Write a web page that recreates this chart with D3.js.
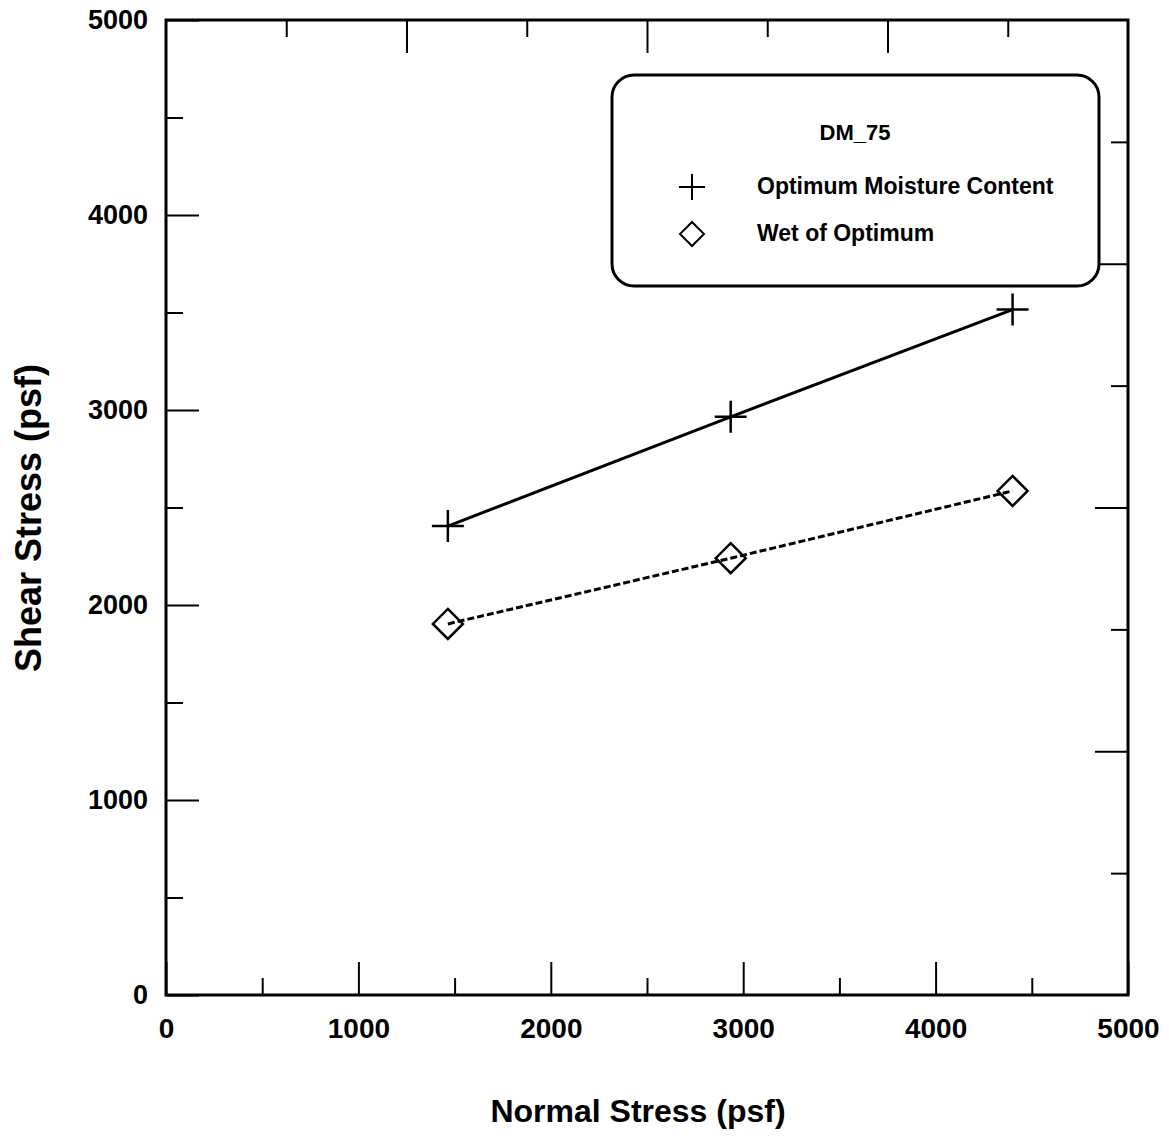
<!DOCTYPE html>
<html><head><meta charset="utf-8">
<script src="https://cdn.jsdelivr.net/npm/d3@7"></script>
<style>body{margin:0;background:#fff}svg{display:block}text{font-family:"Liberation Sans",Arial,sans-serif;font-weight:bold;fill:#000}</style>
</head><body><svg id="c" width="1169" height="1138"></svg>
<script>
const normalStress = [1465, 2935, 4400];
const optimumShear = [2405, 2965, 3515];
const wetShear = [1903, 2240, 2585];
const xMajorTicks = [0, 1000, 2000, 3000, 4000, 5000];
const xMinorTicks = [500, 1500, 2500, 3500, 4500];
const yMajorTicks = [0, 1000, 2000, 3000, 4000, 5000];
const yMinorTicks = [500, 1500, 2500, 3500, 4500];
const secMajorTicks = [2, 4, 6];
const secMinorTicks = [1, 3, 5, 7];
const legendTitle = "DM_75";
const seriesNames = ["Optimum Moisture Content", "Wet of Optimum"];

const svg = d3.select("#c");
const L = 166, R = 1128, T = 20, B = 995;
const x = d3.scaleLinear().domain([0, 5000]).range([L, R]);
const y = d3.scaleLinear().domain([0, 5000]).range([B, T]);
const xs = d3.scaleLinear().domain([0, 8]).range([L, R]);
const ys = d3.scaleLinear().domain([0, 8]).range([B, T]);

function styleAxis(g) {
  g.select(".domain").remove();
  g.selectAll(".tick line").attr("stroke", "#000").attr("stroke-width", 2);
}
const MAJ = 33, MIN = 17;
// bottom
svg.append("g").attr("transform", `translate(0,${B})`)
  .call(d3.axisBottom(x).tickValues(xMajorTicks).tickSize(-MAJ).tickPadding(23).tickFormat(d3.format("d")))
  .call(styleAxis)
  .call(g => g.selectAll("text").attr("font-size", 28).attr("font-family", null).style("font-weight", "bold"));
svg.append("g").attr("transform", `translate(0,${B})`)
  .call(d3.axisBottom(x).tickValues(xMinorTicks).tickSize(-MIN).tickFormat(""))
  .call(styleAxis);
// left
svg.append("g").attr("transform", `translate(${L},0)`)
  .call(d3.axisLeft(y).tickValues(yMajorTicks).tickSize(-MAJ).tickPadding(18).tickFormat(d3.format("d")))
  .call(styleAxis)
  .call(g => g.selectAll("text").attr("font-size", 27).attr("font-family", null).style("font-weight", "bold"));
svg.append("g").attr("transform", `translate(${L},0)`)
  .call(d3.axisLeft(y).tickValues(yMinorTicks).tickSize(-MIN).tickFormat(""))
  .call(styleAxis);
// top
svg.append("g").attr("transform", `translate(0,${T})`)
  .call(d3.axisTop(xs).tickValues(secMajorTicks).tickSize(-MAJ).tickFormat(""))
  .call(styleAxis);
svg.append("g").attr("transform", `translate(0,${T})`)
  .call(d3.axisTop(xs).tickValues(secMinorTicks).tickSize(-MIN).tickFormat(""))
  .call(styleAxis);
// right
svg.append("g").attr("transform", `translate(${R},0)`)
  .call(d3.axisRight(ys).tickValues(secMajorTicks).tickSize(-MAJ).tickFormat(""))
  .call(styleAxis);
svg.append("g").attr("transform", `translate(${R},0)`)
  .call(d3.axisRight(ys).tickValues(secMinorTicks).tickSize(-MIN).tickFormat(""))
  .call(styleAxis);

// frame
svg.append("rect").attr("x", L).attr("y", T).attr("width", R - L).attr("height", B - T)
  .attr("fill", "none").attr("stroke", "#000").attr("stroke-width", 3);

// axis titles
svg.append("text").attr("x", 638).attr("y", 1122).attr("text-anchor", "middle")
  .attr("font-size", 32).text("Normal Stress (psf)");
svg.append("text").attr("transform", `translate(41,518) rotate(-90)`).attr("text-anchor", "middle")
  .attr("font-size", 36).text("Shear Stress (psf)");

// lines
const opt = normalStress.map((d, i) => [d, optimumShear[i]]);
const wet = normalStress.map((d, i) => [d, wetShear[i]]);
const line = d3.line().x(d => x(d[0])).y(d => y(d[1]));
svg.append("path").attr("d", line(opt)).attr("fill", "none").attr("stroke", "#000").attr("stroke-width", 3);
svg.append("path").attr("d", line(wet)).attr("fill", "none").attr("stroke", "#000").attr("stroke-width", 3)
  .attr("stroke-dasharray", "7,3");

function plus(g, cx, cy, s, w) {
  g.append("path").attr("d", `M${cx - s},${cy}H${cx + s}M${cx},${cy - s}V${cy + s}`)
    .attr("stroke", "#000").attr("stroke-width", w).attr("fill", "none");
}
function diamond(g, cx, cy, s, w) {
  g.append("path").attr("d", `M${cx},${cy - s}L${cx + s},${cy}L${cx},${cy + s}L${cx - s},${cy}Z`)
    .attr("stroke", "#000").attr("stroke-width", w).attr("fill", "none");
}
opt.forEach(d => plus(svg, x(d[0]), y(d[1]), 16, 2.5));
wet.forEach(d => diamond(svg, x(d[0]), y(d[1]), 15, 2.5));

// legend
svg.append("rect").attr("x", 612).attr("y", 75).attr("width", 487).attr("height", 211)
  .attr("rx", 22).attr("ry", 22).attr("fill", "#fff").attr("stroke", "#000").attr("stroke-width", 3);
svg.append("text").attr("x", 855).attr("y", 140).attr("text-anchor", "middle").attr("font-size", 22).text(legendTitle);
plus(svg, 692, 187, 13, 2);
svg.append("text").attr("x", 757).attr("y", 194).attr("font-size", 23).text(seriesNames[0]);
diamond(svg, 692, 234, 12, 2);
svg.append("text").attr("x", 757).attr("y", 241).attr("font-size", 23).text(seriesNames[1]);
</script></body></html>
